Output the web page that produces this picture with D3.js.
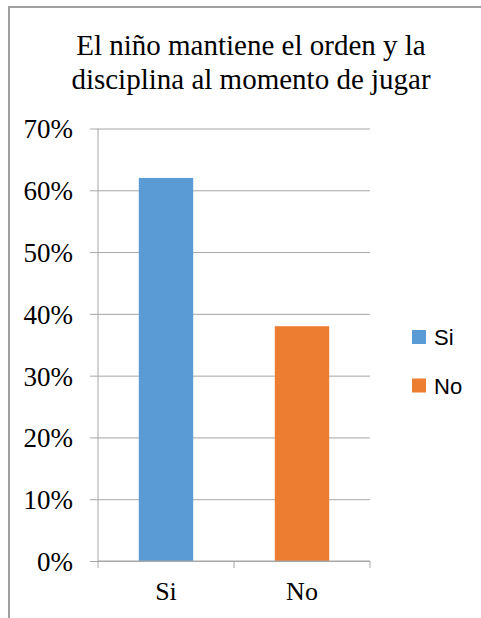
<!DOCTYPE html>
<html>
<head>
<meta charset="utf-8">
<script src="https://cdnjs.cloudflare.com/ajax/libs/d3/7.8.5/d3.min.js"></script>
<style>
  body { margin: 0; background: #fff; }
  svg { display: block; }
  .serif { font-family: "Liberation Serif", "Times New Roman", serif; fill: #000; }
  .sans { font-family: "Liberation Sans", Arial, sans-serif; fill: #000; }
</style>
</head>
<body>
<svg width="481" height="618"></svg>
<script>
var svg = d3.select("svg"),
    width = +svg.attr("width"),
    height = +svg.attr("height");

var categories = ["Si", "No"];
var values = [0.62, 0.38];
var colors = ["#5b9bd5", "#ed7d31"];
var yTicks = [0, 0.1, 0.2, 0.3, 0.4, 0.5, 0.6, 0.7];
var titleLines = ["El niño mantiene el orden y la", "disciplina al momento de jugar"];

var plot = { left: 98, right: 370, top: 128.5, bottom: 561 };

// outer chart frame (cut at right/bottom like the source)
svg.append("path")
    .attr("d", "M9," + height + "V7H" + width)
    .attr("fill", "none")
    .attr("stroke", "#a0a0a0")
    .attr("stroke-width", 2);

// title
svg.append("g")
  .selectAll("text")
  .data(titleLines)
  .enter().append("text")
    .attr("class", "serif")
    .attr("x", 251)
    .attr("y", function(d, i) { return 55 + i * 34; })
    .attr("text-anchor", "middle")
    .attr("font-size", 29)
    .text(function(d) { return d; });

var y = d3.scaleLinear()
    .domain([0, 0.7])
    .range([plot.bottom, plot.top]);

var x = d3.scaleBand()
    .domain(categories)
    .range([plot.left, plot.right])
    .paddingInner(0.6)
    .paddingOuter(0.3);

var xTick = d3.scaleBand()
    .domain(categories)
    .range([plot.left, plot.right]);

// gridlines + y ticks
var yAxis = svg.append("g")
    .attr("transform", "translate(" + plot.left + ",0)")
    .call(d3.axisLeft(y)
        .tickValues(yTicks)
        .tickSize(-(plot.right - plot.left))
        .tickPadding(25)
        .tickFormat(d3.format(".0%")));

yAxis.attr("font-family", null).attr("font-size", null);
yAxis.select(".domain").remove();
yAxis.selectAll(".tick line")
    .attr("x1", -8)
    .attr("stroke", "#a6a6a6");
yAxis.selectAll(".tick text")
    .attr("class", "serif")
    .attr("dy", "0.35em")
    .attr("font-size", 27);

// vertical axis line
svg.append("line")
    .attr("x1", plot.left).attr("x2", plot.left)
    .attr("y1", plot.top).attr("y2", plot.bottom)
    .attr("stroke", "#a6a6a6");

// bars
svg.append("g")
  .selectAll("rect")
  .data(values)
  .enter().append("rect")
    .attr("x", function(d, i) { return x(categories[i]); })
    .attr("width", x.bandwidth())
    .attr("y", function(d) { return y(d); })
    .attr("height", function(d) { return y(0) - y(d); })
    .attr("fill", function(d, i) { return colors[i]; });

// x axis
var xg = svg.append("g")
    .attr("transform", "translate(0," + plot.bottom + ")");

xg.append("line")
    .attr("x1", plot.left).attr("x2", plot.right)
    .attr("stroke", "#a6a6a6");

var boundaries = categories.map(function(c) { return xTick(c); }).concat([plot.right]);
xg.selectAll(".xt")
  .data(boundaries)
  .enter().append("line")
    .attr("class", "xt")
    .attr("x1", function(d) { return d; })
    .attr("x2", function(d) { return d; })
    .attr("y1", 0).attr("y2", 7)
    .attr("stroke", "#a6a6a6");

xg.selectAll(".xl")
  .data(categories)
  .enter().append("text")
    .attr("class", "serif")
    .attr("x", function(d) { return xTick(d) + xTick.bandwidth() / 2; })
    .attr("y", 39)
    .attr("text-anchor", "middle")
    .attr("font-size", 26)
    .text(function(d) { return d; });

// legend
var legend = svg.append("g")
    .attr("transform", "translate(412,330)");

var item = legend.selectAll("g")
  .data(categories)
  .enter().append("g")
    .attr("transform", function(d, i) { return "translate(0," + (i * 48.5) + ")"; });

item.append("rect")
    .attr("width", 14)
    .attr("height", 14)
    .attr("fill", function(d, i) { return colors[i]; });

item.append("text")
    .attr("class", "sans")
    .attr("x", 22)
    .attr("y", 15)
    .attr("font-size", 22)
    .text(function(d) { return d; });
</script>
</body>
</html>
